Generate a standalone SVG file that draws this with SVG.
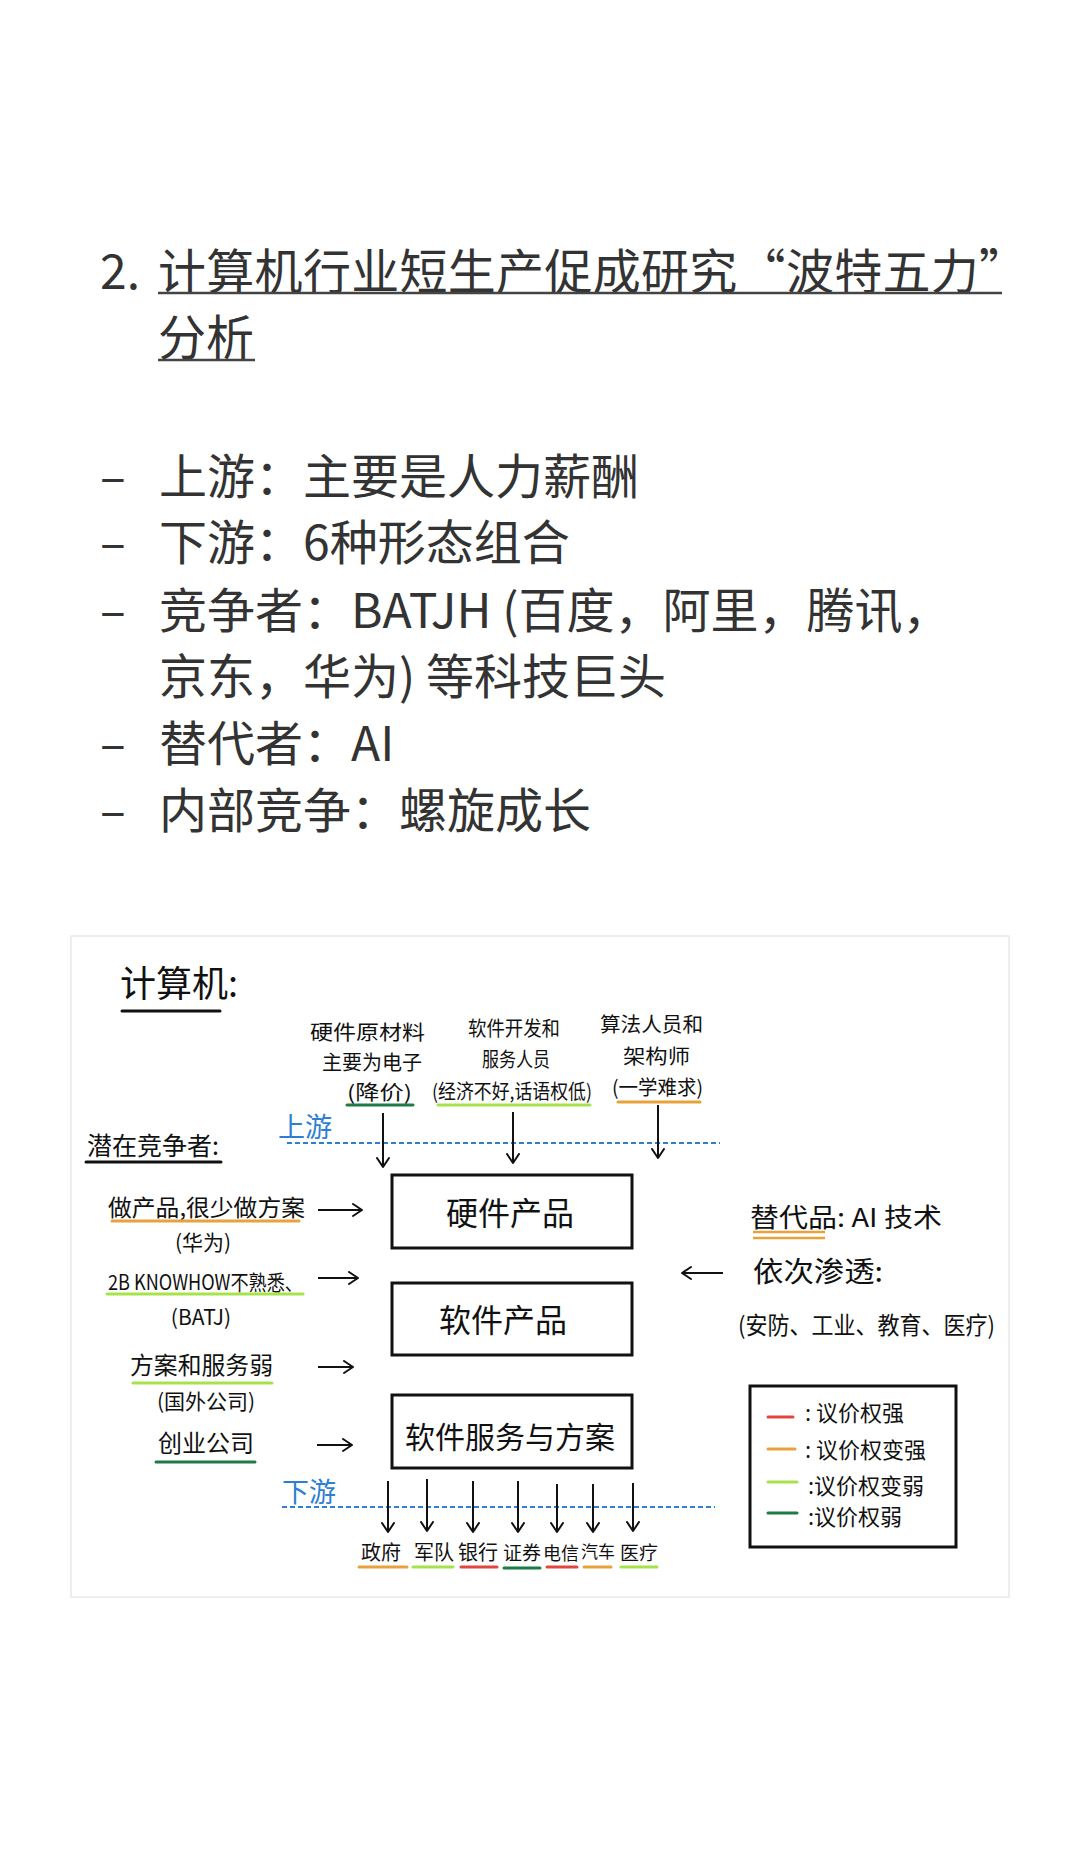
<svg xmlns="http://www.w3.org/2000/svg" width="1080" height="1874" viewBox="0 0 1080 1874">
  <style>
    .doc { font-family: "Noto Sans CJK SC", "Noto Sans", sans-serif; fill: #333333; font-size: 48px; }
    .hw { font-family: "Noto Sans CJK SC", "Noto Sans", sans-serif; fill: #111111; }
    .blue { fill: #2e7fd3; }
    .ul { stroke-width: 3; stroke-linecap: round; fill: none; }
    .red { stroke: #e2463f; }
    .org { stroke: #e9a23b; }
    .lime { stroke: #a6e34a; }
    .grn { stroke: #1e7b45; }
    .blk { stroke: #111111; }
    .box { fill: none; stroke: #111111; stroke-width: 3; }
    .arrow { stroke: #111111; stroke-width: 2; fill: none; marker-end: url(#arr); }
    .dash { stroke: #2e7fd3; stroke-width: 2; stroke-dasharray: 5 3; fill: none; }
  </style>
  <defs>
    <marker id="arr" markerUnits="userSpaceOnUse" markerWidth="12" markerHeight="16" refX="10" refY="7" orient="auto">
      <path d="M1,1 L10,7 L1,13" fill="none" stroke="#111111" stroke-width="2" stroke-linecap="round" stroke-linejoin="round"/>
    </marker>
  </defs>
  <rect x="0" y="0" width="1080" height="1874" fill="#ffffff"/>

  <!-- Document text -->
  <g id="title">
    <text class="doc" x="100" y="289">2.</text>
    <text class="doc" x="158" y="289" letter-spacing="0.3">计算机行业短生产促成研究“波特五力”</text>
    <line x1="158" y1="293" x2="1002" y2="293" stroke="#444444" stroke-width="2.5"/>
    <text class="doc" x="158" y="355">分析</text>
    <line x1="158" y1="360" x2="255" y2="360" stroke="#444444" stroke-width="2.5"/>
  </g>
  <g id="bullets">
    <text class="doc" x="100" y="494" font-size="40">–</text>
    <text class="doc" x="159" y="494">上游：主要是人力薪酬</text>
    <text class="doc" x="100" y="560" font-size="40">–</text>
    <text class="doc" x="159" y="560">下游：6种形态组合</text>
    <text class="doc" x="100" y="628" font-size="40">–</text>
    <text class="doc" x="159" y="628">竞争者：BATJH (百度，阿里，腾讯，</text>
    <text class="doc" x="159" y="694">京东，华为) 等科技巨头</text>
    <text class="doc" x="100" y="761" font-size="40">–</text>
    <text class="doc" x="159" y="761">替代者：AI</text>
    <text class="doc" x="100" y="828" font-size="40">–</text>
    <text class="doc" x="159" y="828">内部竞争：螺旋成长</text>
  </g>

  <!-- Diagram frame -->
  <rect x="71" y="936" width="938" height="661" fill="#ffffff" stroke="#e8e8e8" stroke-width="1.5"/>

  <g id="heading">
    <text class="hw" x="120" y="997" font-size="36">计算机:</text>
    <line class="ul blk" x1="122" y1="1011" x2="220" y2="1011"/>
  </g>

  <g id="upstream-hardware">
    <text class="hw" x="310" y="1040" font-size="20" textLength="115" lengthAdjust="spacingAndGlyphs">硬件原材料</text>
    <text class="hw" x="322" y="1070" font-size="20" textLength="100" lengthAdjust="spacingAndGlyphs">主要为电子</text>
    <text class="hw" x="347" y="1100" font-size="20" textLength="65" lengthAdjust="spacingAndGlyphs">(降价)</text>
    <line class="ul grn" x1="347" y1="1105" x2="413" y2="1105"/>
  </g>
  <g id="upstream-software">
    <text class="hw" x="468" y="1036" font-size="20" textLength="92" lengthAdjust="spacingAndGlyphs">软件开发和</text>
    <text class="hw" x="482" y="1067" font-size="20" textLength="68" lengthAdjust="spacingAndGlyphs">服务人员</text>
    <text class="hw" x="432" y="1099" font-size="20" textLength="160" lengthAdjust="spacingAndGlyphs">(经济不好,话语权低)</text>
    <line class="ul lime" x1="438" y1="1105" x2="590" y2="1105"/>
  </g>
  <g id="upstream-algo">
    <text class="hw" x="600" y="1032" font-size="20" textLength="103" lengthAdjust="spacingAndGlyphs">算法人员和</text>
    <text class="hw" x="623" y="1064" font-size="20" textLength="67" lengthAdjust="spacingAndGlyphs">架构师</text>
    <text class="hw" x="612" y="1095" font-size="20" textLength="91" lengthAdjust="spacingAndGlyphs">(一学难求)</text>
    <line class="ul org" x1="618" y1="1102" x2="700" y2="1102"/>
  </g>

  <g id="upstream-label">
    <text class="hw blue" x="278" y="1137" font-size="27">上游</text>
    <line class="dash" x1="287" y1="1143" x2="720" y2="1143"/>
  </g>

  <g id="potential-label">
    <text class="hw" x="87" y="1155" font-size="25">潜在竞争者:</text>
    <line class="ul blk" x1="86" y1="1162" x2="221" y2="1162"/>
  </g>

  <g id="entrant-huawei">
    <text class="hw" x="108" y="1216" font-size="23" textLength="197" lengthAdjust="spacingAndGlyphs">做产品,很少做方案</text>
    <line class="ul org" x1="112" y1="1221" x2="299" y2="1221"/>
    <text class="hw" x="203" y="1250" font-size="21" text-anchor="middle">(华为)</text>
  </g>
  <g id="entrant-batj">
    <text class="hw" x="108" y="1290" font-size="21" textLength="195" lengthAdjust="spacingAndGlyphs">2B KNOWHOW不熟悉、</text>
    <line class="ul lime" x1="107" y1="1294" x2="303" y2="1294"/>
    <text class="hw" x="201" y="1325" font-size="21" text-anchor="middle">(BATJ)</text>
  </g>
  <g id="entrant-foreign">
    <text class="hw" x="130" y="1374" font-size="24" textLength="143" lengthAdjust="spacingAndGlyphs">方案和服务弱</text>
    <line class="ul lime" x1="133" y1="1383" x2="272" y2="1383"/>
    <text class="hw" x="206" y="1409" font-size="21" text-anchor="middle">(国外公司)</text>
  </g>
  <g id="entrant-startup">
    <text class="hw" x="158" y="1452" font-size="24" textLength="96" lengthAdjust="spacingAndGlyphs">创业公司</text>
    <line class="ul grn" x1="156" y1="1462" x2="255" y2="1462"/>
  </g>

  <g id="box-hardware">
    <rect class="box" x="392" y="1175" width="240" height="73"/>
    <text class="hw" x="510" y="1225" font-size="32" text-anchor="middle">硬件产品</text>
  </g>
  <g id="box-software">
    <rect class="box" x="392" y="1283" width="240" height="72"/>
    <text class="hw" x="503" y="1332" font-size="32" text-anchor="middle">软件产品</text>
  </g>
  <g id="box-service">
    <rect class="box" x="392" y="1395" width="240" height="73"/>
    <text class="hw" x="510" y="1448" font-size="30" text-anchor="middle">软件服务与方案</text>
  </g>

  <g id="substitute">
    <text class="hw" x="750" y="1227" font-size="26" textLength="192" lengthAdjust="spacingAndGlyphs">替代品: AI 技术</text>
    <line class="org" x1="753" y1="1232" x2="825" y2="1232" stroke-width="2.5"/>
    <line class="org" x1="753" y1="1238" x2="825" y2="1238" stroke-width="2.5"/>
    <text class="hw" x="753" y="1282" font-size="28" textLength="130" lengthAdjust="spacingAndGlyphs">依次渗透:</text>
    <text class="hw" x="738" y="1334" font-size="24" textLength="257" lengthAdjust="spacingAndGlyphs">(安防、工业、教育、医疗)</text>
  </g>

  <g id="legend">
    <rect class="box" x="750" y="1386" width="206" height="161"/>
    <line class="ul red" x1="768" y1="1417" x2="793" y2="1417"/>
    <text class="hw" x="805" y="1421" font-size="22">: 议价权强</text>
    <line class="ul org" x1="768" y1="1449" x2="795" y2="1449"/>
    <text class="hw" x="805" y="1458" font-size="22">: 议价权变强</text>
    <line class="ul lime" x1="768" y1="1482" x2="797" y2="1482"/>
    <text class="hw" x="808" y="1494" font-size="22">:议价权变弱</text>
    <line class="ul grn" x1="768" y1="1513" x2="797" y2="1513"/>
    <text class="hw" x="808" y="1525" font-size="22">:议价权弱</text>
  </g>

  <g id="downstream-label">
    <text class="hw blue" x="282" y="1502" font-size="27">下游</text>
    <line class="dash" x1="282" y1="1507" x2="715" y2="1507"/>
  </g>

  <g id="customers">
    <g id="c-gov"><text class="hw" x="381" y="1560" font-size="20" text-anchor="middle">政府</text><line class="ul org" x1="359" y1="1567" x2="407" y2="1567"/></g>
    <g id="c-army"><text class="hw" x="434" y="1560" font-size="20" text-anchor="middle">军队</text><line class="ul lime" x1="413" y1="1567" x2="453" y2="1567"/></g>
    <g id="c-bank"><text class="hw" x="478" y="1560" font-size="20" text-anchor="middle">银行</text><line class="ul red" x1="461" y1="1567" x2="497" y2="1567"/></g>
    <g id="c-sec"><text class="hw" x="522" y="1560" font-size="19" text-anchor="middle">证券</text><line class="ul grn" x1="504" y1="1568" x2="540" y2="1568"/></g>
    <g id="c-tel"><text class="hw" x="561" y="1560" font-size="18" text-anchor="middle">电信</text><line class="ul red" x1="547" y1="1567" x2="577" y2="1567"/></g>
    <g id="c-car"><text class="hw" x="598" y="1558" font-size="17" text-anchor="middle">汽车</text><line class="ul org" x1="584" y1="1567" x2="611" y2="1567"/></g>
    <g id="c-med"><text class="hw" x="639" y="1560" font-size="19" text-anchor="middle">医疗</text><line class="ul lime" x1="621" y1="1567" x2="657" y2="1567"/></g>
  </g>

  <g id="connectors">
    <line class="arrow" x1="383" y1="1113" x2="383" y2="1167"/>
    <line class="arrow" x1="513" y1="1112" x2="513" y2="1163"/>
    <line class="arrow" x1="658" y1="1105" x2="658" y2="1158"/>
    <line class="arrow" x1="318" y1="1210" x2="362" y2="1210"/>
    <line class="arrow" x1="318" y1="1278" x2="358" y2="1278"/>
    <line class="arrow" x1="318" y1="1367" x2="353" y2="1367"/>
    <line class="arrow" x1="317" y1="1445" x2="352" y2="1445"/>
    <line class="arrow" x1="723" y1="1273" x2="682" y2="1273"/>
    <line class="arrow" x1="388" y1="1481" x2="388" y2="1532"/>
    <line class="arrow" x1="427" y1="1479" x2="427" y2="1531"/>
    <line class="arrow" x1="473" y1="1481" x2="473" y2="1532"/>
    <line class="arrow" x1="518" y1="1481" x2="518" y2="1532"/>
    <line class="arrow" x1="557" y1="1484" x2="557" y2="1532"/>
    <line class="arrow" x1="593" y1="1484" x2="593" y2="1532"/>
    <line class="arrow" x1="633" y1="1483" x2="633" y2="1531"/>
  </g>
</svg>
